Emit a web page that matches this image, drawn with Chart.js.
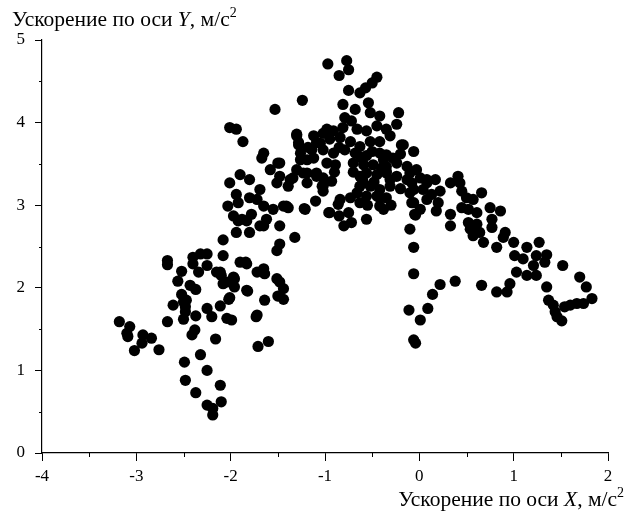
<!DOCTYPE html>
<html>
<head>
<meta charset="utf-8">
<script src="https://cdn.jsdelivr.net/npm/chart.js@4.4.1/dist/chart.umd.min.js"></script>
<style>
  html, body { margin: 0; padding: 0; background: #fff; }
  #wrap { width: 629px; height: 513px; }
</style>
</head>
<body>
<div id="wrap"><canvas id="chart" width="629" height="513"></canvas></div>
<script>
// axis ranges and tick labels
const xTicks = [-4, -3, -2, -1, 0, 1, 2];
const yTicks = [0, 1, 2, 3, 4, 5];

// points, grouped by region [x, y]
const lowerLeft = [
  [-3.18,1.59],[-3.07,1.53],[-3.10,1.45],[-3.09,1.41],[-2.93,1.43],[-2.84,1.39],[-2.94,1.33],
  [-3.02,1.24],[-2.76,1.25],[-2.67,1.59],[-2.61,1.79],[-2.50,1.83],[-2.48,1.71],[-2.50,1.62],
  [-2.37,1.66],[-2.38,1.49],[-2.41,1.43],[-2.25,1.75],[-2.20,1.65],[-2.11,1.78],[-2.02,1.86],
  [-2.04,1.63],[-1.99,1.61],[-2.16,1.38],[-2.49,1.10],[-2.32,1.19],[-2.25,1.00],[-2.48,0.88],
  [-2.37,0.73],[-2.11,0.82],[-2.10,0.62],[-2.25,0.58],[-2.19,0.54],[-2.19,0.46],[-1.73,1.65],
  [-1.71,1.29],[-1.60,1.35],[-1.64,1.85]
];
const midLeft = [
  [-2.67,2.33],[-2.67,2.28],[-2.52,2.20],[-2.56,2.08],[-2.43,2.03],[-2.37,1.98],[-2.52,1.92],
  [-2.47,1.85],[-2.48,1.77],[-2.40,2.37],[-2.32,2.41],[-2.25,2.41],[-2.40,2.29],[-2.34,2.19],
  [-2.25,2.27],[-2.15,2.19],[-2.10,2.15],[-2.08,2.05],[-2.08,2.39],[-1.96,2.11],[-1.96,2.01],
  [-2.01,1.88],[-2.08,2.58],[-1.90,2.31],[-1.84,2.31],[-1.82,1.96],[-1.72,2.19],[-1.65,2.23],
  [-1.64,2.17],[-1.94,2.67],[-1.80,2.67],[-1.92,2.81],[-1.83,2.81],[-1.65,2.75],[-1.72,1.67],
  [-1.83,2.29],[-1.51,2.11],[-1.48,2.07],[-1.83,1.97],[-2.04,2.07],[-1.97,2.13],[-2.11,2.19],
  [-1.50,1.90],[-1.44,1.99],[-1.44,1.86]
];
const upperLeft = [
  [-2.01,3.94],[-1.94,3.92],[-1.87,3.77],[-1.65,3.63],[-1.67,3.57],[-1.50,3.51],[-1.58,3.43],
  [-1.90,3.37],[-1.80,3.31],[-2.01,3.27],[-1.51,3.27],[-1.37,3.31],[-1.94,3.13],[-1.80,3.09],
  [-1.69,3.19],[-2.03,2.99],[-1.92,3.03],[-1.97,2.87],[-1.88,2.83],[-1.78,2.89],[-1.65,2.99],
  [-1.55,2.95],[-1.62,2.83],[-1.69,2.75],[-1.48,2.75],[-1.44,2.99],[-1.39,2.97],[-1.22,2.96],
  [-1.72,3.07],[-1.32,2.61],[-1.48,2.53],[-1.51,2.45],[-1.53,4.16],[-1.24,4.27],
  [-1.30,3.86],[-1.02,3.87],[-1.28,3.73],[-1.26,3.63],[-1.19,3.55],[-1.30,3.43],[-1.19,3.39],
  [-1.09,3.35],[-1.02,3.23],[-1.02,3.17],[-0.96,2.91],[-1.10,3.05]
];
const central = [
  [-0.97,4.71],[-0.77,4.75],[-0.75,4.64],[-0.85,4.57],[-0.45,4.55],[-0.50,4.48],[-0.57,4.42],
  [-0.63,4.36],[-0.75,4.39],[-0.81,4.22],[-0.68,4.16],[-0.54,4.24],[-0.52,4.12],[-0.42,4.08],
  [-0.22,4.12],[-0.24,3.98],[-0.79,4.06],[-0.72,4.02],[-0.81,3.94],[-0.66,3.92],[-0.56,3.90],
  [-0.45,3.96],[-0.35,3.92],[-0.98,3.92],[-0.91,3.90],[-1.12,3.84],[-1.30,3.84],[-1.28,3.76],
  [-1.09,3.76],[-0.95,3.80],[-0.84,3.82],[-0.73,3.77],[-0.63,3.71],[-0.52,3.77],[-0.42,3.77],
  [-0.31,3.84],[-0.17,3.73],[-0.06,3.65],[-1.14,3.67],[-1.02,3.67],[-0.91,3.63],[-0.79,3.67],
  [-0.68,3.63],[-0.56,3.60],[-0.42,3.63],[-0.28,3.57],[-1.26,3.55],[-1.12,3.57],[-0.98,3.51],
  [-0.89,3.49],[-0.70,3.51],[-0.59,3.49],[-0.49,3.49],[-0.35,3.47],[-0.13,3.47],[-0.03,3.43],
  [-1.34,3.33],[-1.23,3.39],[-1.09,3.39],[-1.02,3.33],[-1.19,3.27],[-1.03,3.23],[-0.93,3.29],
  [-0.63,3.35],[-0.56,3.39],[-0.45,3.37],[-0.35,3.39],[-0.24,3.35],[-0.13,3.31],[0.01,3.33],
  [-0.63,3.23],[-0.52,3.23],[-0.42,3.19],[-0.31,3.23],[-0.06,3.19],[0.08,3.27],[-0.66,3.15],
  [-0.56,3.11],[-0.45,3.11],[-0.35,3.09],[-0.84,3.07],[-0.73,3.09],[-0.86,3.01],[-0.63,3.03],
  [-0.42,2.99],[-0.08,3.03],[-0.95,2.91],[-0.75,2.91],[-0.56,2.83],[-0.38,2.95],[-0.05,2.89],
  [-0.72,2.79],[-1.21,2.95],[-1.41,2.99],[-1.39,3.23],[-1.48,3.35],[-1.48,3.51],[-0.80,2.75],
  [-0.85,2.87],[-0.60,3.30],[-0.48,3.28],[-0.40,3.45],[-0.62,3.58],[-0.50,3.65],[-0.38,3.55],
  [-0.70,3.40],[-0.55,3.00],[-0.30,3.00],[-0.20,3.20],[-0.85,3.70],[-1.05,3.75],[-1.18,3.70],
  [-0.90,3.40],[-0.20,3.62]
];
const right = [
  [-0.19,3.73],[-0.35,3.61],[-0.24,3.51],[-0.35,3.41],[-0.31,3.31],[-0.10,3.39],[-0.08,3.27],
  [0.08,3.31],[0.17,3.31],[0.33,3.27],[0.41,3.35],[0.43,3.27],[0.66,3.15],[0.04,3.19],[0.13,3.13],
  [0.22,3.17],[-0.10,3.15],[-0.42,3.09],[-0.06,3.03],[0.08,3.07],[0.20,3.03],[0.45,3.17],
  [0.50,3.09],[0.57,3.07],[0.01,2.95],[0.18,2.93],[0.33,2.89],[0.45,2.97],[0.52,2.95],[0.61,2.91],
  [0.75,2.97],[0.86,2.93],[0.33,2.75],[0.52,2.79],[0.61,2.77],[0.77,2.83],[0.54,2.71],[0.64,2.67],
  [0.57,2.63],[0.68,2.55],[0.77,2.73],[0.91,2.67],[0.89,2.61],[1.00,2.55],[0.82,2.49],[1.14,2.49],
  [1.27,2.55],[1.01,2.39],[1.10,2.35],[1.24,2.39],[1.35,2.40],[1.33,2.31],[1.21,2.27],[1.03,2.19],
  [1.14,2.15],[1.24,2.15],[1.52,2.27],[1.70,2.13],[1.77,2.01],[1.83,1.87],[1.74,1.81],[1.67,1.81],
  [1.60,1.79],[1.54,1.77],[1.35,2.01],[1.37,1.85],[1.42,1.79],[1.44,1.71],[1.46,1.65],[1.51,1.60]
];
const lowerRight = [
  [0.96,2.05],[0.93,1.95],[0.82,1.95],[0.66,2.03],[0.38,2.08],[0.22,2.04],[0.14,1.92],[0.09,1.75],
  [0.01,1.61],[-0.11,1.73],[-0.06,2.17],[-0.06,2.49],[-0.10,2.71],[-0.04,2.88],[-0.06,1.37],
  [-0.04,1.33]
];

const allPoints = [].concat(lowerLeft, midLeft, upperLeft, central, right, lowerRight)
  .map(p => ({ x: p[0], y: p[1] }));

const serif = "'Liberation Serif', 'Times New Roman', serif";

// draws "Ускорение по оси X, м/с²" with italic letter and superscript
function drawTitle(ctx, letter, x, baseline, alignRight) {
  const size = 21.5;
  const parts = [
    { t: 'Ускорение по оси ', f: size + 'px ' + serif, dy: 0 },
    { t: letter, f: 'italic ' + size + 'px ' + serif, dy: 0 },
    { t: ', м/с', f: size + 'px ' + serif, dy: 0 },
    { t: '2', f: '14px ' + serif, dy: -9 }
  ];
  let total = 0;
  parts.forEach(p => { ctx.font = p.f; p.w = ctx.measureText(p.t).width; total += p.w; });
  let cx = alignRight ? x - total : x;
  ctx.fillStyle = '#000';
  ctx.textBaseline = 'alphabetic';
  ctx.textAlign = 'left';
  parts.forEach(p => { ctx.font = p.f; ctx.fillText(p.t, cx, baseline + p.dy); cx += p.w; });
}

const extras = {
  id: 'extras',
  afterDraw(chart) {
    const ctx = chart.ctx;
    const xs = chart.scales.x, ys = chart.scales.y;
    ctx.save();
    ctx.strokeStyle = '#000';
    ctx.lineWidth = 1;
    // minor ticks at halves
    ctx.beginPath();
    for (let v = -3.5; v < 2; v += 1) {
      const px = Math.round(xs.getPixelForValue(v)) + 0.5;
      ctx.moveTo(px, ys.bottom);
      ctx.lineTo(px, ys.bottom + 4);
    }
    for (let v = 0.5; v < 5; v += 1) {
      const py = Math.round(ys.getPixelForValue(v)) + 0.5;
      ctx.moveTo(xs.left, py);
      ctx.lineTo(xs.left - 3, py);
    }
    ctx.stroke();
    drawTitle(ctx, 'Y', 12, 26, false);
    drawTitle(ctx, 'X', 624, 506, true);
    ctx.restore();
  }
};

new Chart(document.getElementById('chart'), {
  type: 'scatter',
  data: {
    datasets: [{
      data: allPoints,
      backgroundColor: '#000',
      borderColor: '#000',
      borderWidth: 0,
      pointRadius: 5.6,
      pointHoverRadius: 5.6
    }]
  },
  options: {
    responsive: false,
    animation: false,
    layout: { padding: { top: 40, right: 21, left: 0, bottom: 0 } },
    plugins: { legend: { display: false }, tooltip: { enabled: false } },
    scales: {
      x: {
        type: 'linear',
        min: xTicks[0],
        max: xTicks[xTicks.length - 1],
        afterFit: s => { s.height = 60; },
        afterBuildTicks: s => { s.ticks = xTicks.map(v => ({ value: v })); },
        ticks: { color: '#000', font: { family: serif, size: 17 }, padding: 5 },
        grid: { drawOnChartArea: false, drawTicks: true, tickLength: 8, color: '#000' },
        border: { display: true, color: '#000', width: 1.2 }
      },
      y: {
        type: 'linear',
        min: yTicks[0],
        max: yTicks[yTicks.length - 1],
        afterFit: s => { s.width = 42; },
        afterBuildTicks: s => { s.ticks = yTicks.map(v => ({ value: v })); },
        ticks: { color: '#000', font: { family: serif, size: 17 }, padding: 10 },
        grid: { drawOnChartArea: false, drawTicks: true, tickLength: 7, color: '#000' },
        border: { display: true, color: '#000', width: 1.2 }
      }
    }
  },
  plugins: [extras]
});
</script>
</body>
</html>
